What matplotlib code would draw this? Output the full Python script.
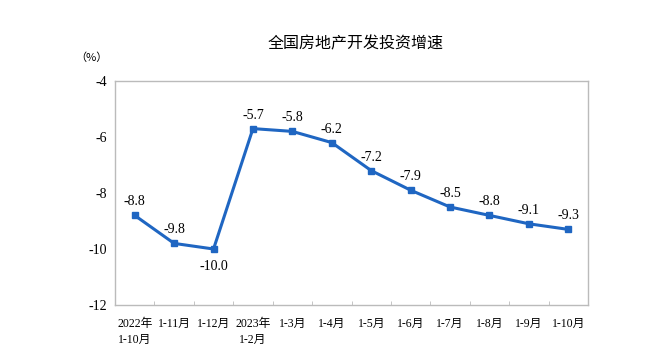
import numpy as np
import matplotlib
matplotlib.use('Agg')
import matplotlib.pyplot as plt

plt.rcParams['font.family'] = ['Liberation Serif', 'Noto Sans CJK SC']

# data
cats = ['2022年\n1-10月', '1-11月', '1-12月', '2023年\n1-2月', '1-3月', '1-4月',
        '1-5月', '1-6月', '1-7月', '1-8月', '1-9月', '1-10月']
vals = [-8.8, -9.8, -10.0, -5.7, -5.8, -6.2, -7.2, -7.9, -8.5, -8.8, -9.1, -9.3]
yticks = [-12, -10, -8, -6, -4]

fig = plt.figure(figsize=(6.48, 3.58), dpi=100)
ax = fig.add_axes([115/648, 1-305/358, 473/648, 224/358])

x = np.arange(len(vals))
ax.plot(x, vals, color='#1f66c2', lw=2.2, marker='s', ms=4.5)

for i, v in enumerate(vals):
    if v == -10.0:
        ax.annotate(f'{v:.1f}', (i, v), xytext=(0, -8), textcoords='offset points',
                    ha='center', va='top', fontsize=10)
    else:
        ax.annotate(f'{v:.1f}', (i, v), xytext=(0, 5), textcoords='offset points',
                    ha='center', va='bottom', fontsize=10)

ax.set_xlim(-0.5, len(vals) - 0.5)
ax.set_ylim(-12, -4)
ax.set_yticks(yticks)
ax.set_yticklabels([str(t) for t in yticks], fontsize=10)
ax.tick_params(axis='y', length=0, pad=6)

ax.set_xticks(x)
ax.set_xticklabels(cats, fontsize=8.5, linespacing=1.45)
ax.tick_params(axis='x', which='major', length=0, pad=9)
ax.set_xticks(np.arange(-0.5, len(vals), 1), minor=True)
ax.tick_params(axis='x', which='minor', direction='in', length=3, color='#bbbbbb')
for lbl in ax.get_xticklabels():
    lbl.set_horizontalalignment('center')
    lbl.set_verticalalignment('top')

for s in ax.spines.values():
    s.set_color('#bbbbbb')
    s.set_linewidth(1)

fig.text(356/648, 1-44/358, '全国房地产开发投资增速', ha='center', va='center',
         fontsize=11.5, family=['Noto Sans CJK SC'])
fig.text(91/648, 1-58/358, '（%）', ha='center', va='center', fontsize=8,
         family=['Noto Sans CJK SC'])

fig.savefig('out.png', dpi=100)
